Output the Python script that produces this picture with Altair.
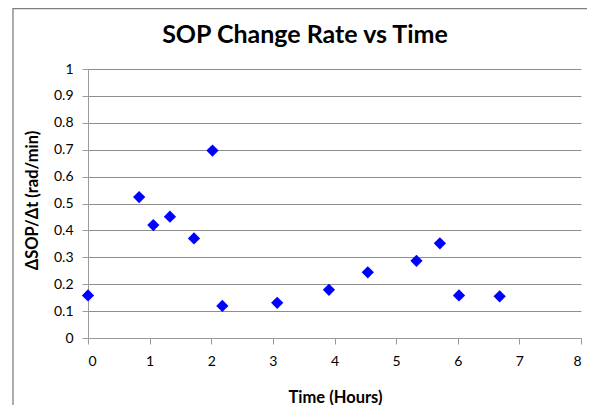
import altair as alt
import pandas as pd

# Data
time_hours = [0.0, 0.83, 1.06, 1.33, 1.72, 2.02, 2.18, 3.07, 3.91, 4.54, 5.33, 5.71, 6.02, 6.68]
sop_rate = [0.158, 0.524, 0.420, 0.451, 0.370, 0.697, 0.119, 0.131, 0.179, 0.244, 0.287, 0.352, 0.158, 0.155]

x_ticks = [0, 1, 2, 3, 4, 5, 6, 7, 8]
y_ticks = [0, 0.1, 0.2, 0.3, 0.4, 0.5, 0.6, 0.7, 0.8, 0.9, 1]
chart_title = ["SOP Change Rate vs Time"]

df = pd.DataFrame({"Time": time_hours, "Rate": sop_rate})
title_df = pd.DataFrame({"label": chart_title})

FONT = "Lato"

points = alt.Chart(df).mark_point(
    shape="diamond", filled=True, color="#0000FF", size=150, opacity=1
).encode(
    x=alt.X(
        "Time:Q",
        scale=alt.Scale(domain=[0, 8], nice=False, zero=False),
        axis=alt.Axis(
            title="Time (Hours)",
            values=x_ticks,
            format="d",
            grid=False,
            tickSize=6,
            labelPadding=10,
            titleX=247,
            titleY=59,
            titleAlign="center",
            titleBaseline="middle",
        ),
    ),
    y=alt.Y(
        "Rate:Q",
        scale=alt.Scale(domain=[0, 1], nice=False),
        axis=alt.Axis(
            title="ΔSOP/Δt (rad/min)",
            values=y_ticks,
            format=".1~f",
            grid=True,
            tickSize=6,
            labelPadding=9,
            titleAngle=-90,
            titleX=-56,
            titleY=131,
            titleAlign="center",
            titleBaseline="middle",
        ),
    ),
)

title_text = alt.Chart(title_df).mark_text(
    font=FONT, fontSize=25, fontWeight="bold", color="#000000",
    align="center", baseline="alphabetic",
).encode(text="label:N", x=alt.value(217), y=alt.value(-25.7))

frame_left = alt.Chart(alt.Data(values=[{}])).mark_rule(
    color="#808080", strokeWidth=1.3
).encode(x=alt.value(-75), y=alt.value(-61), y2=alt.value(340))

frame_top = alt.Chart(alt.Data(values=[{}])).mark_rule(
    color="#808080", strokeWidth=1.3
).encode(x=alt.value(-75), x2=alt.value(499), y=alt.value(-60.3))

chart = alt.layer(frame_left, frame_top, title_text, points).properties(
    width=493,
    height=269,
    padding={"left": 80, "top": 61, "right": 6, "bottom": 67},
    autosize=alt.AutoSizeParams(type="none"),
).configure_view(
    stroke=None
).configure_axis(
    labelFont=FONT,
    labelFontSize=14,
    labelColor="#000000",
    titleFont=FONT,
    titleFontSize=16.5,
    titleFontWeight="bold",
    titleColor="#000000",
    domainColor="#9a9a9a",
    tickColor="#9a9a9a",
    gridColor="#8e8e8e",
    gridWidth=1,
    domainWidth=1,
)

chart.save("out.html", embed_options={"renderer": "svg", "actions": False})
